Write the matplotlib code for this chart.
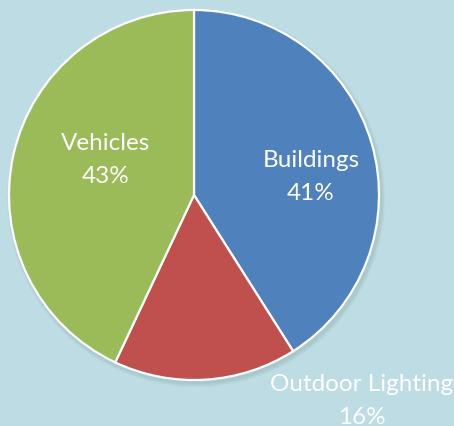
import matplotlib
matplotlib.use("Agg")
import matplotlib.pyplot as plt
from matplotlib.patches import Circle

categories = ["Buildings", "Outdoor Lighting", "Vehicles"]
shares = [41, 16, 43]
colors = ["#4F81BD", "#C0504D", "#9BBB59"]

W, H = 454, 426
bg = "#BEDCE3"

fig = plt.figure(figsize=(W / 100, H / 100), dpi=100, facecolor=bg)
ax = fig.add_axes([0, 0, 1, 1])

cx, cy, r = 194, H - 195, 185

# soft drop shadow
for i in range(4):
    ax.add_patch(Circle((cx + 2, cy - 3), r + 4 - i, color="#5a7a80", alpha=0.05, lw=0, zorder=0))

ax.pie(shares, colors=colors, startangle=90, counterclock=False,
       center=(cx, cy), radius=r, frame=True,
       wedgeprops=dict(edgecolor="white", linewidth=1.6))
ax.set_xlim(0, W)
ax.set_ylim(0, H)
ax.set_aspect("equal")
ax.axis("off")

font = dict(color="white", fontsize=17.5, family=["Lato", "DejaVu Sans"],
            ha="center", va="baseline")
# baseline of the category name; the percentage sits one line below
label_pos = [(311, H - 167), (362, H - 391), (106, H - 150)]
line_gap = 33
for name, val, (x, y) in zip(categories, shares, label_pos):
    ax.text(x, y, name, **font)
    ax.text(x, y - line_gap, f"{val}%", **font)

fig.savefig("out.png", dpi=100, facecolor=bg)
